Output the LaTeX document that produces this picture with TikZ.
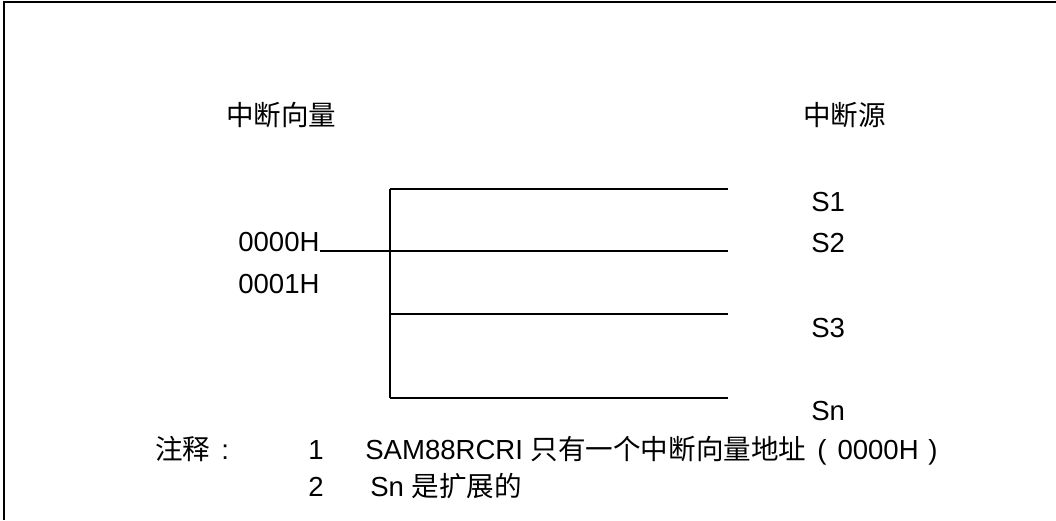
\documentclass[tikz,border=0pt]{standalone}
\usepackage{fontspec}
\setmainfont{Liberation Sans}
\newfontfamily\cjk{Noto Sans CJK SC}
\usepackage{tikz}

\tikzset{
    lbl/.style={inner sep=0pt, anchor=base west, font=\fontsize{19.6pt}{23pt}\selectfont},
    wire/.style={line width=1.1pt},
}

\begin{document}
\begin{tikzpicture}[x=0.025cm,y=-0.025cm]
        \useasboundingbox (0,0) rectangle (1056,520);
        \draw[line width=1.5pt] (4,520) -- (4,2) -- (1056,2);

        \node[lbl] (vec) at (226,125) {\cjk 中断向量};
        \node[lbl] (src) at (803,125) {\cjk 中断源};

        \node[lbl] (addr0) at (238,251) {0000H};
        \node[lbl] (addr1) at (238,293) {0001H};

        \foreach \y/\nm/\txt in {211/s1/S1,252/s2/S2,337/s3/S3,420/sn/Sn} {
            \node[lbl] (\nm) at (811,\y) {\txt};
        }

        \coordinate (bustop) at (390,189);
        \coordinate (busbot) at (390,398);
        \coordinate (busmid) at (390,314);
        \foreach \y/\nm in {189/e1,251/e2,314/e3,398/en} {
            \coordinate (\nm) at (728,\y);
        }
        \draw[wire] (bustop) -- (busbot);
        \draw[wire] (bustop) -- (e1);
        \draw[wire] (addr0.base east) -- (e2);
        \draw[wire] (busmid) -- (e3);
        \draw[wire] (busbot) -- (en);

        \node[lbl] (note) at (155,459) {{\cjk 注释}\hspace{0.4em}:};
        \node[lbl] (n1) at (308,459) {1};
        \node[lbl] (t1) at (365,459) {SAM88RCRI {\cjk 只有一个中断向量地址}\hspace{0.4em}(\hspace{0.4em}0000H\hspace{0.35em})};
        \node[lbl] (n2) at (308,496) {2};
        \node[lbl] (t2) at (370,496) {Sn {\cjk 是扩展的}};
    \end{tikzpicture}
\end{document}
